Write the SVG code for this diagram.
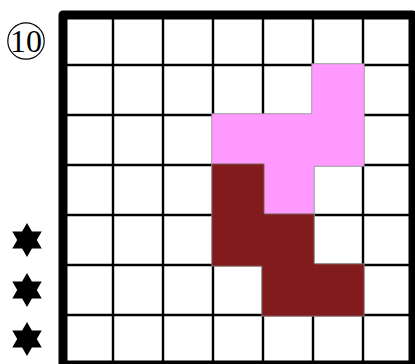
<svg xmlns="http://www.w3.org/2000/svg" width="415" height="364" viewBox="0 0 415 364">
<style>
.grid{stroke:#000;stroke-width:2.4;fill:none}
.frame{stroke:#000;stroke-width:9;fill:none;stroke-linejoin:round}
.pink{fill:#ff99ff;stroke:#a0a0a0;stroke-width:0.8}
.red{fill:#821b1e;stroke:#8a8a8a;stroke-width:0.8}
.lbl{font-family:"Liberation Serif","DejaVu Serif",serif;font-size:32px;fill:#000}
</style>
<defs>
<path id="star" d="M0,-17 L4.91,-8.5 L14.72,-8.5 L9.815,0 L14.72,8.5 L4.91,8.5 L0,17 L-4.91,8.5 L-14.72,8.5 L-9.815,0 L-14.72,-8.5 L-4.91,-8.5 Z" fill="#000"/>
</defs>
<rect width="415" height="364" fill="#fff"/>
<g id="grid">
<path class="grid" d="M113,15V365M163,15V365M213,15V365M263,15V365M313,15V365M363,15V365M63,65H413M63,115H413M63,165H413M63,215H413M63,265H413M63,315H413"/>
</g>
<g id="pink-piece">
<path class="pink" d="M311.8,63.8H364.2V166.2H314.2V216.2H261.8V166.2H211.8V113.8H311.8Z"/>
</g>
<g id="red-piece">
<path class="red" d="M211.8,163.8H264.2V213.8H314.2V263.8H364.2V316.2H261.8V266.2H211.8Z"/>
</g>
<g id="frame">
<rect class="frame" x="63" y="15" width="350" height="350"/>
</g>
<g id="label">
<circle cx="26" cy="41" r="18.2" fill="none" stroke="#000" stroke-width="1.2"/>
<text class="lbl" x="26" y="51.7" text-anchor="middle">10</text>
</g>
<g id="stars">
<use href="#star" x="27" y="240"/>
<use href="#star" x="27" y="290"/>
<use href="#star" x="27" y="339"/>
</g>
</svg>
